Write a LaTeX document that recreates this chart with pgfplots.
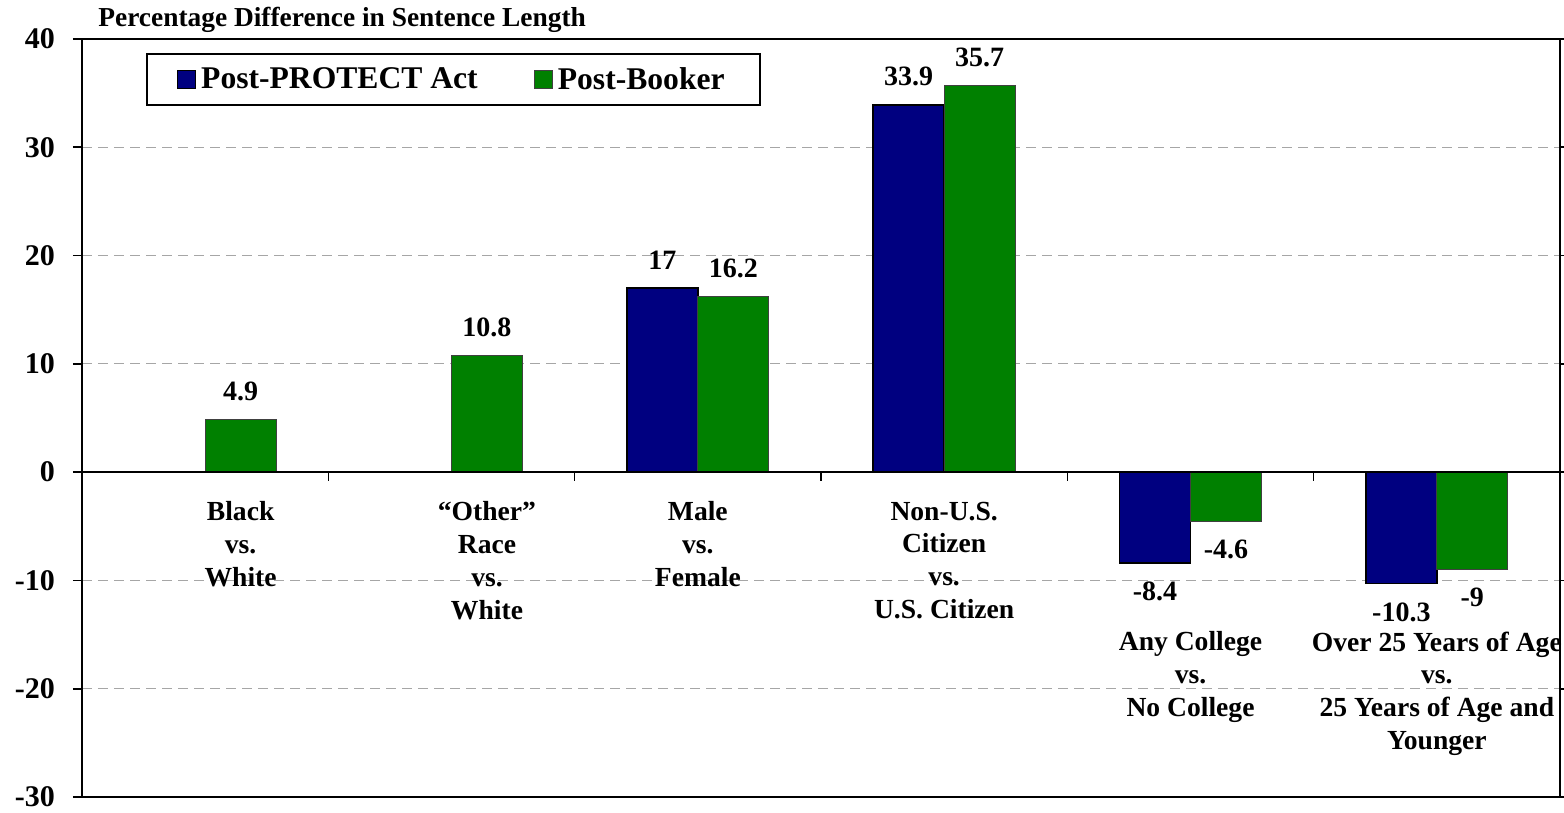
\documentclass[border=0pt]{standalone}
\usepackage{fontspec}
\setmainfont{Liberation Serif}
\usepackage{pgfplots}
\pgfplotsset{compat=1.18}
\definecolor{navyblue}{RGB}{0,0,128}
\definecolor{mygreen}{RGB}{0,128,0}
\begin{document}
\begin{tikzpicture}
\begin{axis}[
  scale only axis, width=739pt, height=379pt,
  xmin=0.5, xmax=6.5, ymin=-30, ymax=40,
  clip=false,
  xtick=\empty,
  ytick={-30,-20,-10,0,10,20,30,40},
  yticklabels={-30,-20,-10,0,10,20,30,40},
  yticklabel style={font=\fontsize{15}{17}\selectfont\bfseries, xshift=-5.5pt},
  ymajorgrids,
  grid style={gray!70, dash pattern=on 5pt off 3pt, line width=0.5pt},
  tick align=outside, major tick length=4.5pt,
  major tick style={black, line width=0.8pt},
  axis line style={line width=1pt},
  ybar=0pt, bar width=0.288,
  nodes near coords={\pgfmathprintnumber[assume math mode=true]{\pgfplotspointmeta}},
  nodes near coords align={vertical},
  every node near coord/.append style={font=\fontsize{14}{16}\selectfont\bfseries, black, inner ysep=9pt},
  legend columns=2,
  legend style={at={(0.0433,0.981)}, anchor=north west, draw=black, line width=1pt,
    font=\fontsize{15.8}{18}\selectfont\bfseries, inner xsep=15pt, inner ysep=3.5pt,
    nodes={inner xsep=2.5pt, inner ysep=3pt},
    /tikz/every even column/.append style={column sep=25.5pt}},
  legend image code/.code={\draw[#1, line width=0.6pt] (0pt,-4.5pt) rectangle (9pt,4.5pt);},
]
\addplot[fill=navyblue, draw=black, line width=0.8pt] coordinates {
  (3,17) (4,33.9) (5,-8.4) (6,-10.3)};
\addplot[fill=mygreen, draw=black!75, line width=0.5pt] coordinates {
  (1,4.9) (2,10.8) (3,16.2) (4,35.7) (5,-4.6) (6,-9)};
\legend{Post-PROTECT Act, Post-Booker}
\draw[line width=1.2pt] (axis cs:0.5,0) -- (axis cs:6.5,0);
\pgfplotsinvokeforeach{1.5,2.5,3.5,4.5,5.5}{\draw[line width=0.8pt] (axis cs:#1,0) -- ++(0pt,-4.5pt);}
\tikzset{catlab/.style={anchor=north, align=center, inner sep=0pt, font=\fontsize{13.8}{16.4}\selectfont\bfseries}}
\node[catlab] at (axis cs:1.144,-2.7) {Black\\vs.\\White};
\node[catlab] at (axis cs:2.144,-2.7) {“Other”\\Race\\vs.\\White};
\node[catlab] at (axis cs:3,-2.7) {Male\\vs.\\Female};
\node[catlab] at (axis cs:4,-2.7) {Non-U.S.\\Citizen\\vs.\\U.S. Citizen};
\node[catlab] at (axis cs:5,-14.7) {Any College\\vs.\\No College};
\node[catlab] at (axis cs:6,-14.7) {Over 25 Years of Age\\vs.\\25 Years of Age and\\Younger};
\coordinate (sw) at (rel axis cs:0,0);
\coordinate (nw) at (rel axis cs:0,1);
\coordinate (ne) at (rel axis cs:1,1);
\end{axis}
\node[anchor=base west, inner sep=0pt, font=\fontsize{13.7}{15}\selectfont\bfseries] at ([shift={(8pt,6pt)}]nw) {Percentage Difference in Sentence Length};
\pgfresetboundingbox
\path ([shift={(-41pt,-7.5pt)}]sw) rectangle ([shift={(2pt,19.5pt)}]ne);
\end{tikzpicture}
\end{document}
